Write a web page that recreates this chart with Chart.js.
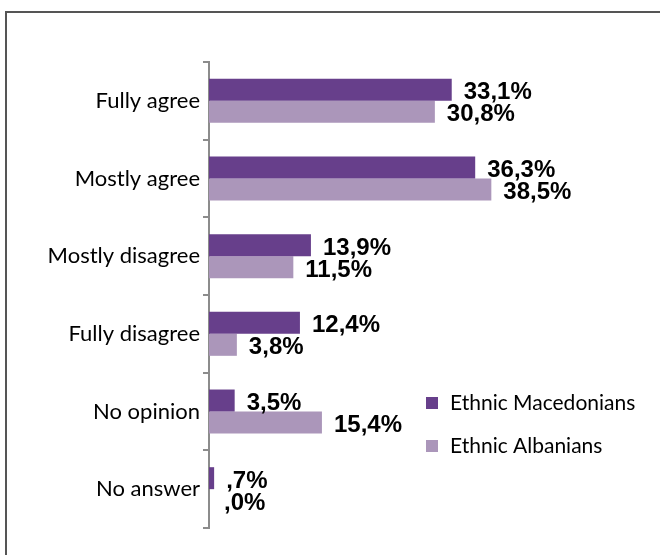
<!DOCTYPE html>
<html>
<head>
<meta charset="utf-8">
<script src="https://cdn.jsdelivr.net/npm/chart.js@4.4.1/dist/chart.umd.min.js"></script>
<style>
  html, body { margin: 0; padding: 0; background: #fff; }
  #wrap { position: relative; width: 660px; height: 555px; }
  #frame {
    position: absolute; left: 5px; top: 11px; right: 0; bottom: 0;
    border-top: 2px solid #555; border-left: 2px solid #555;
    pointer-events: none;
  }
  canvas { position: absolute; left: 0; top: 0; }
</style>
</head>
<body>
<div id="wrap">
  <canvas id="chart" width="660" height="555"></canvas>
  <div id="frame"></div>
</div>
<script>
// ANSWERS

const categories = ["Fully agree", "Mostly agree", "Mostly disagree", "Fully disagree", "No opinion", "No answer"];
const macedonians = [33.1, 36.3, 13.9, 12.4, 3.5, 0.7];
const albanians = [30.8, 38.5, 11.5, 3.8, 15.4, 0.0];
const seriesNames = ["Ethnic Macedonians", "Ethnic Albanians"];
const seriesColors = ["#673f8b", "#ab96ba"];

// "33,1%" style, and ",7%" for values below one
function formatPercent(v) {
    let s = v.toFixed(1).replace(".", ",");
    if (s.startsWith("0")) s = s.slice(1);
    return s + "%";
}

const valueLabels = {
    id: "valueLabels",
    afterDatasetsDraw(chart) {
        const ctx = chart.ctx;
        ctx.save();
        ctx.font = "bold 24px 'Liberation Sans Narrow', 'Arial Narrow', sans-serif";
        ctx.fillStyle = "#000";
        ctx.textBaseline = "middle";
        ctx.textAlign = "left";
        chart.data.datasets.forEach((dataset, i) => {
            const meta = chart.getDatasetMeta(i);
            meta.data.forEach((bar, j) => {
                const x = Math.max(bar.x, bar.base + 3) + 12;
                ctx.fillText(formatPercent(dataset.data[j]), x, bar.y + 3);
            });
        });
        ctx.restore();
    },
};

const boxLegend = {
    id: "boxLegend",
    afterDraw(chart, args, opts) {
        const ctx = chart.ctx;
        ctx.save();
        ctx.font = opts.font;
        ctx.textBaseline = "middle";
        chart.data.datasets.forEach((dataset, i) => {
            const y = opts.top + i * opts.rowGap;
            ctx.fillStyle = dataset.backgroundColor;
            ctx.fillRect(opts.left, y - 6, 12, 12);
            ctx.fillStyle = "#000";
            ctx.fillText(dataset.label, opts.left + 24, y);
        });
        ctx.restore();
    },
};

const chart = new Chart(document.getElementById("chart"), {
    type: "bar",
    data: {
        labels: categories,
        datasets: [
            { label: seriesNames[0], data: macedonians, backgroundColor: seriesColors[0] },
            { label: seriesNames[1], data: albanians, backgroundColor: seriesColors[1] },
        ],
    },
    options: {
        indexAxis: "y",
        responsive: false,
        animation: false,
        layout: { padding: { top: 62, bottom: 27, left: 0, right: 121 } },
        datasets: {
            bar: { categoryPercentage: 0.566, barPercentage: 1 },
        },
        plugins: {
            legend: { display: false },
            tooltip: { enabled: false },
            boxLegend: { left: 426, top: 403, rowGap: 43, font: "21px Lato, sans-serif" },
        },
        scales: {
            x: { display: false, min: 0, max: 45 },
            y: {
                afterFit: (scale) => { scale.width = 209; },
                border: { display: true, color: "#8c8c8c", width: 2 },
                grid: { drawOnChartArea: false, drawTicks: true, tickLength: 6, color: "#8c8c8c", lineWidth: 2 },
                ticks: { color: "#000", padding: 3, font: { family: "Lato", size: 22 } },
            },
        },
    },
    plugins: [valueLabels, boxLegend],
});
</script>
</body>
</html>
